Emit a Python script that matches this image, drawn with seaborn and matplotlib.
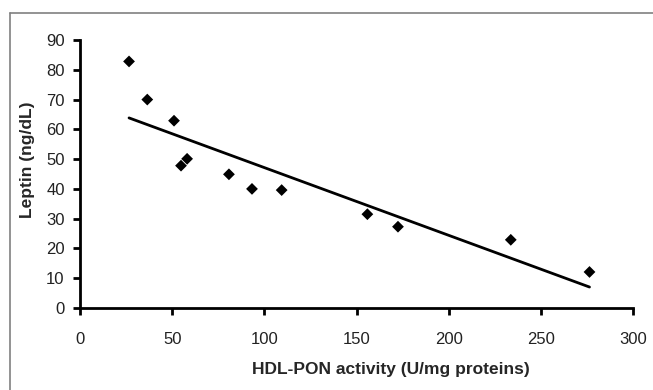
import matplotlib
matplotlib.use("Agg")
import matplotlib.pyplot as plt
from matplotlib.lines import Line2D
import seaborn as sns
import pandas as pd

# HDL-PON activity vs leptin
hdl_pon = [26.6, 36.5, 51.0, 54.8, 58.1, 80.8, 93.3, 109.4, 155.9, 172.5, 233.7, 276.4]
leptin = [82.8, 70.0, 62.9, 47.8, 50.1, 44.9, 40.0, 39.6, 31.5, 27.3, 22.9, 12.1]
x_ticks = [0, 50, 100, 150, 200, 250, 300]
y_ticks = [0, 10, 20, 30, 40, 50, 60, 70, 80, 90]

df = pd.DataFrame({"hdl_pon": hdl_pon, "leptin": leptin})

sns.set_theme(style="ticks")
plt.rcParams["font.family"] = ["Liberation Sans", "DejaVu Sans"]

fig = plt.figure(figsize=(6.53, 3.90), dpi=100)
ax = fig.add_axes([80 / 653, 1 - 308 / 390, 553 / 653, 268 / 390])

sns.regplot(
    data=df, x="hdl_pon", y="leptin", ci=None, ax=ax,
    marker="D",
    scatter_kws={"s": 36, "color": "black", "alpha": 1, "edgecolors": "none", "zorder": 3},
    line_kws={"color": "black", "linewidth": 2},
)

ax.set_xlim(0, 300)
ax.set_ylim(0, 90)
ax.set_xticks(x_ticks)
ax.set_yticks(y_ticks)
ax.tick_params(axis="both", direction="out", length=5, width=2, labelsize=12,
               colors="black")
ax.tick_params(axis="x", pad=12)
ax.tick_params(axis="y", pad=6)
for side in ["left", "bottom"]:
    ax.spines[side].set_linewidth(2)
    ax.spines[side].set_color("black")
sns.despine(ax=ax)
for lbl in ax.get_xticklabels() + ax.get_yticklabels():
    lbl.set_color("#222222")

ax.set_xlabel("HDL-PON activity (U/mg proteins)", fontsize=12.5, fontweight="bold")
ax.set_ylabel("Leptin (ng/dL)", fontsize=12.5, fontweight="bold")
# Excel-style label placement (slightly off the axis centre)
ax.xaxis.set_label_coords(0.562, -0.20)
ax.yaxis.set_label_coords(-0.081, 0.552)

# thin grey frame around the figure (right and bottom edges cropped away)
fig.add_artist(Line2D([10 / 653, 1], [1 - 13 / 390, 1 - 13 / 390], color="#808080", linewidth=1.2))
fig.add_artist(Line2D([10 / 653, 10 / 653], [0, 1 - 13 / 390], color="#808080", linewidth=1.2))

fig.savefig("out.png", dpi=100, facecolor="white")
